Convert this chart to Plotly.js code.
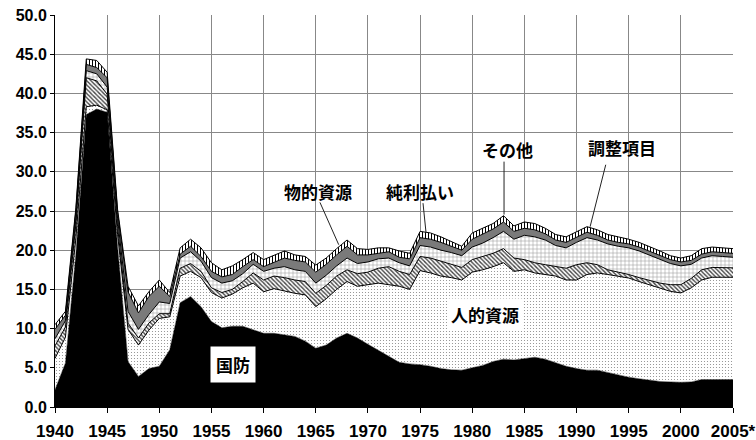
<!DOCTYPE html>
<html><head><meta charset="utf-8">
<script src="https://cdn.plot.ly/plotly-3.0.1.min.js"></script>
<style>html,body{margin:0;padding:0;background:#fff}#chart{width:756px;height:440px}</style>
</head><body><div id="chart"></div>
<script>
const years = [1940,1941,1942,1943,1944,1945,1946,1947,1948,1949,
  1950,1951,1952,1953,1954,1955,1956,1957,1958,1959,
  1960,1961,1962,1963,1964,1965,1966,1967,1968,1969,
  1970,1971,1972,1973,1974,1975,1976,1977,1978,1979,
  1980,1981,1982,1983,1984,1985,1986,1987,1988,1989,
  1990,1991,1992,1993,1994,1995,1996,1997,1998,1999,
  2000,2001,2002,2003,2004,2005];
const defense = [2.2,5.6,19.5,37.3,38.0,37.6,20.5,5.8,3.9,4.9,
  5.2,7.3,13.3,14.1,12.8,10.9,10.1,10.3,10.3,9.8,
  9.4,9.4,9.2,9.0,8.4,7.5,7.9,8.8,9.4,8.8,
  8.0,7.2,6.4,5.7,5.5,5.4,5.2,4.9,4.75,4.7,
  5.0,5.3,5.8,6.1,6.0,6.2,6.35,6.1,5.6,5.2,
  4.9,4.7,4.7,4.4,4.1,3.8,3.6,3.4,3.25,3.2,
  3.15,3.2,3.5,3.5,3.5,3.5];
const human = [4.0,3.3,2.0,1.0,0.5,0.3,1.5,4.1,4.0,4.9,
  6.1,4.2,3.4,3.2,3.7,3.7,3.8,4.1,4.9,6.0,
  5.3,5.7,5.6,5.5,5.9,5.3,5.9,6.2,6.6,6.6,
  7.6,8.6,9.2,9.7,9.5,12.0,11.9,11.8,11.75,11.5,
  12.2,12.2,12.1,12.3,11.3,11.3,10.75,10.8,11.1,11.0,
  11.3,12.2,12.4,12.5,12.6,12.65,12.4,12.2,11.95,11.55,
  11.4,12.0,12.7,13.05,13.05,13.05];
const physical = [1.6,1.3,1.8,3.7,3.1,2.0,1.0,0.8,0.9,0.9,
  0.6,0.4,1.0,1.0,0.8,0.6,0.7,0.6,0.8,1.3,
  1.5,1.6,1.7,1.7,1.7,1.7,1.7,1.7,1.5,1.6,
  1.6,1.9,2.3,1.9,1.9,1.8,1.9,1.9,1.7,1.6,
  1.6,1.7,1.7,1.8,1.7,1.3,1.3,1.25,1.2,1.5,
  1.95,1.5,1.05,0.6,0.5,0.45,0.5,0.55,0.6,0.85,
  1.05,1.2,1.3,1.25,1.25,1.2];
const interest = [0.9,0.8,0.7,0.9,0.9,0.9,1.0,1.5,1.1,1.1,
  1.5,1.3,1.3,1.5,1.3,1.3,1.2,1.1,1.0,1.1,
  1.1,1.0,1.4,1.3,1.3,1.3,1.3,1.3,1.5,1.3,
  1.3,1.2,1.1,1.1,1.1,1.4,1.4,1.4,1.5,1.5,
  1.6,1.7,2.0,2.2,2.4,3.1,3.3,3.15,2.7,2.6,
  2.85,3.2,3.15,3.3,3.3,3.4,3.4,3.25,3.0,2.7,
  2.4,1.8,1.5,1.5,1.4,1.35];
const other = [1.2,0.7,1.0,0.8,0.8,1.2,0.8,2.5,2.1,2.3,
  2.0,0.9,0.5,0.7,0.6,0.8,0.8,0.8,0.9,0.6,
  0.6,0.8,1.1,1.2,1.2,1.4,1.4,1.4,1.5,1.1,
  0.9,0.7,0.8,0.7,0.9,1.0,1.0,1.0,0.8,0.7,
  1.0,1.1,1.1,1.2,1.0,0.9,0.9,0.8,0.7,0.7,
  0.7,0.7,0.6,0.5,0.5,0.5,0.5,0.5,0.5,0.5,
  0.5,0.5,0.5,0.5,0.5,0.5];
const adjust = [0.6,0.5,0.4,0.7,0.9,0.7,0.4,0.7,0.9,0.6,
  0.8,0.5,0.8,0.9,1.1,1.1,0.9,1.1,0.9,0.9,
  0.9,0.9,0.9,0.7,0.7,0.9,0.8,0.8,0.8,0.8,
  0.7,0.7,0.5,0.8,0.7,0.8,0.8,0.7,0.6,0.5,
  0.8,0.8,0.7,0.8,0.7,0.8,0.8,0.7,0.7,0.7,
  0.7,0.7,0.7,0.7,0.7,0.6,0.6,0.6,0.6,0.5,
  0.5,0.6,0.7,0.6,0.6,0.6];
const seriesNames = ['国防','人的資源','物的資源','純利払い','その他','調整項目'];
const xTickVals = [1940,1945,1950,1955,1960,1965,1970,1975,1980,1985,1990,1995,2000,2005];
const xTickText = ['1940','1945','1950','1955','1960','1965','1970','1975','1980','1985','1990','1995','2000','2005*'];

const lineStyle = {color:'#000', width:1};
function tr(y, name, extra){
  return Object.assign({x:years, y:y, name:name, type:'scatter', mode:'lines',
    stackgroup:'one', line:lineStyle, hoverinfo:'skip'}, extra);
}
const data = [
  tr(defense, seriesNames[0], {fillcolor:'#000', line:{color:'#000', width:0.5}}),
  tr(human, seriesNames[1], {fillcolor:'#fff', fillpattern:{shape:'.', fgcolor:'#888', bgcolor:'#fff', size:3, solidity:0.12}}),
  tr(physical, seriesNames[2], {fillcolor:'#fff', fillpattern:{shape:'\\', fgcolor:'#444', bgcolor:'#fff', size:3, solidity:0.45}}),
  tr(interest, seriesNames[3], {fillcolor:'#fff', fillpattern:{shape:'+', fgcolor:'#999', bgcolor:'#fff', size:4, solidity:0.25}}),
  tr(other, seriesNames[4], {fillcolor:'#7a7a7a'}),
  tr(adjust, seriesNames[5], {fillcolor:'#fff', fillpattern:{shape:'|', fgcolor:'#000', bgcolor:'#fff', size:3, solidity:0.35}})
];

const lblFont = {family:'"Noto Sans CJK JP", sans-serif', size:17, color:'#000', weight:'bold'};
const tickFont = {family:'"Liberation Sans", Arial, sans-serif', size:17, color:'#000', weight:'bold'};
const leader = {color:'#222', width:1};
function lead(x0,y0,x1,y1){return {type:'line', xref:'x', yref:'y', x0:x0, y0:y0, x1:x1, y1:y1, line:leader, layer:'above'};}

const layout = {
  width:756, height:440,
  margin:{l:55, r:23, t:15, b:33},
  paper_bgcolor:'#fff', plot_bgcolor:'#fff',
  showlegend:false,
  xaxis:{range:[1940,2005], tickvals:xTickVals, ticktext:xTickText,
    showgrid:true, gridcolor:'#888', gridwidth:1,
    showline:true, linecolor:'#000', linewidth:1,
    ticks:'outside', ticklen:5, tickcolor:'#000', zeroline:false,
    ticklabelstandoff:4, tickfont:tickFont},
  yaxis:{range:[0,50], dtick:5, tickformat:'.1f',
    showgrid:true, gridcolor:'#888', gridwidth:1,
    showline:true, linecolor:'#000', linewidth:1,
    ticks:'outside', ticklen:4, tickcolor:'#000', zeroline:false,
    tickfont:{family:'"Liberation Sans", Arial, sans-serif', size:16, color:'#000', weight:'bold'}},
  annotations:[
    {x:1965.2, y:27.5, xref:'x', yref:'y', text:'物的資源', showarrow:false, font:lblFont},
    {x:1975.0, y:27.5, xref:'x', yref:'y', text:'純利払い', showarrow:false, font:lblFont},
    {x:1983.4, y:32.9, xref:'x', yref:'y', text:'その他', showarrow:false, font:lblFont},
    {x:1994.4, y:33.1, xref:'x', yref:'y', text:'調整項目', showarrow:false, font:lblFont},
    {x:1981.2, y:11.8, xref:'x', yref:'y', text:'人的資源', showarrow:false, font:lblFont, bgcolor:'#fff', borderpad:3},
    {x:1957.1, y:5.4, xref:'x', yref:'y', text:'国防', showarrow:false, font:lblFont, bgcolor:'#fff', borderpad:5}
  ],
  shapes:[
    lead(1965.4,26.1,1967.2,20.7),
    lead(1975.28,26.0,1975.57,22.25),
    lead(1983.05,31.3,1983.05,24.55),
    lead(1992.8,30.9,1991.3,23.0)
  ]
};
Plotly.newPlot('chart', data, layout, {staticPlot:true, displayModeBar:false});
</script>
</body></html>
